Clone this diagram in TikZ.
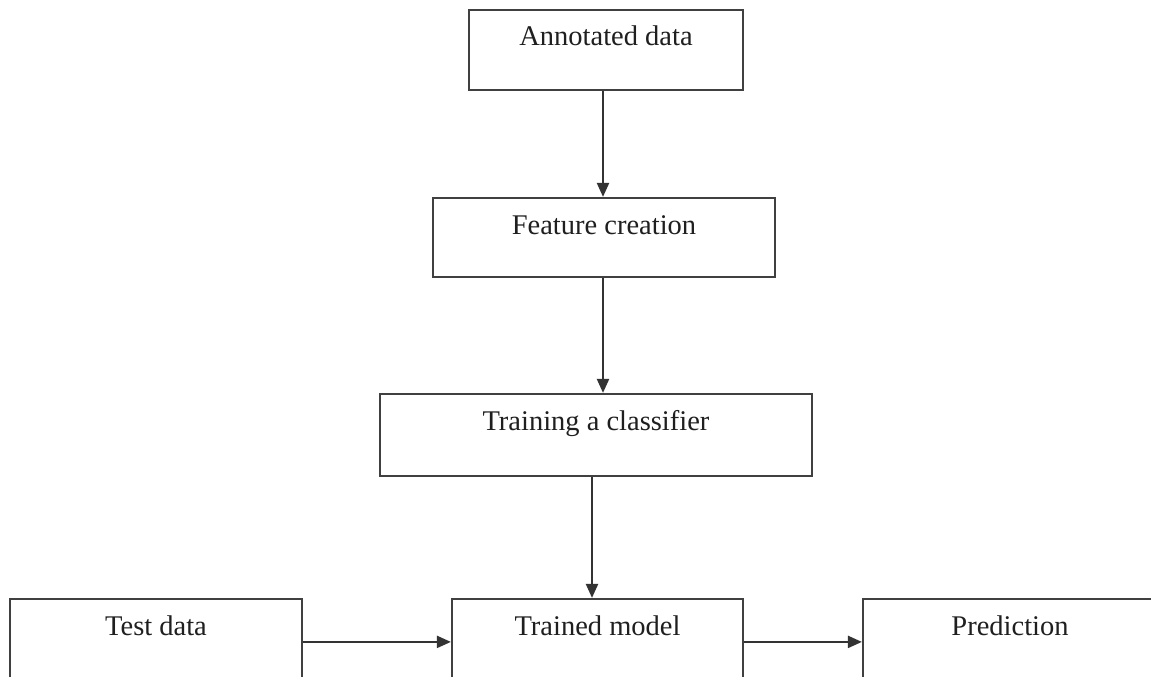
\documentclass[tikz,border=0pt]{standalone}
\usepackage{fontspec}
\setmainfont{Liberation Serif}
\usetikzlibrary{arrows.meta}
\tikzset{
  box/.style={draw=black!75, line width=2.2pt, rectangle, inner sep=0pt,
    text height=36pt, text depth=44pt, text=black!88,
    font=\fontsize{28.5}{34}\selectfont},
  bottombox/.style={box, text depth=64pt},
  arr/.style={draw=black!80, line width=2.2pt, -{Triangle[length=14pt,width=12pt]}}
}
\begin{document}
\begin{tikzpicture}[x=1pt,y=-1pt]
\useasboundingbox (0,0) rectangle (1151,677);
\clip (0,0) rectangle (1151,677);
\node[box, minimum width=274pt] (A) at (606,50) {Annotated data};
\node[box, minimum width=342pt, text depth=43pt] (F) at (604,237.5) {Feature creation};
\node[box, minimum width=432pt, text depth=46pt] (T) at (596,435) {Training a classifier};
\node[bottombox, minimum width=292pt] (D) at (156,649) {Test data};
\node[bottombox, minimum width=291pt] (M) at (597.5,649) {Trained model};
\node[bottombox, minimum width=294pt] (P) at (1010,649) {Prediction};
\draw[arr] ([xshift=-3pt]A.south) -- ([xshift=-3pt]A.south |- F.north);
\draw[arr] ([xshift=-1pt]F.south) -- ([xshift=-1pt]F.south |- T.north);
\draw[arr] ([xshift=-4pt]T.south) -- ([xshift=-4pt]T.south |- M.north);
\draw[arr] ([yshift=-44pt]D.north east) -- ([yshift=-44pt]D.north east -| M.west);
\draw[arr] ([yshift=-44pt]M.north east) -- ([yshift=-44pt]M.north east -| P.west);
\end{tikzpicture}
\end{document}
